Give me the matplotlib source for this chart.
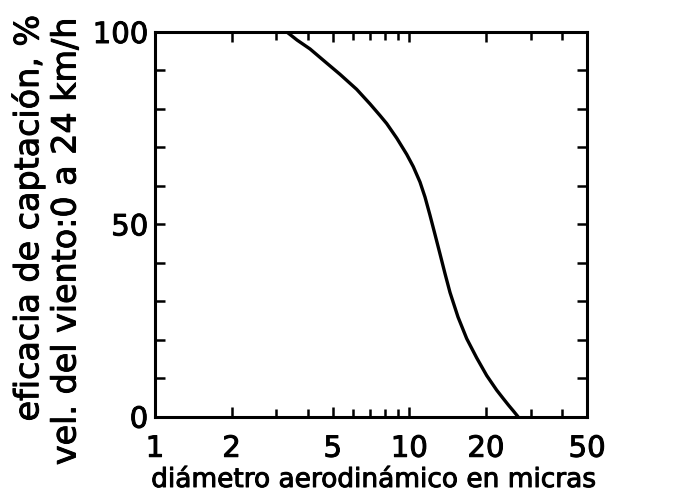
import matplotlib
matplotlib.use("Agg")
import matplotlib.pyplot as plt
import matplotlib.patheffects as pe
from matplotlib.ticker import FixedLocator, FixedFormatter, NullFormatter
from matplotlib.transforms import ScaledTranslation

# Collection efficiency vs. aerodynamic diameter (wind speed 0-24 km/h)
diametro = [3.30, 3.62, 4.07, 4.66, 5.34, 6.21, 7.01, 7.67, 8.15, 8.93, 9.77, 10.37,
            11.02, 11.53, 12.06, 12.62, 13.21, 13.82, 14.46, 15.55, 16.82, 18.41,
            20.16, 22.07, 23.43, 24.56, 25.66, 26.77]
eficacia = [100, 97.9, 95.6, 92.3, 89.0, 85.1, 81.3, 78.3, 76.2, 72.4, 68.2, 65.0,
            61.0, 57.1, 52.4, 47.4, 42.3, 37.2, 32.3, 25.9, 20.3, 15.3,
            10.7, 6.9, 4.7, 3.0, 1.5, 0]

xticks_major = [1, 2, 5, 10, 20, 50]
xtick_labels = ["1", "2", "5", "10", "20", "50"]
xticks_minor = [3, 4, 6, 7, 8, 9, 30, 40]
yticks_major = [0, 50, 100]
ytick_labels = ["0", "50", "100"]
yticks_minor = [10, 20, 30, 40, 60, 70, 80, 90]

plt.rcParams["font.family"] = ["DejaVu Sans"]

# slightly heavier glyphs, like inked lettering
heavy = [pe.withStroke(linewidth=0.7, foreground="black")]

W, H = 680, 495
fig = plt.figure(figsize=(W / 100, H / 100), dpi=100)
ax = fig.add_axes([155 / W, 1 - 416.7 / H, (587 - 155) / W, (416.7 - 32) / H])

ax.plot(diametro, eficacia, color="black", lw=2.4,
        solid_capstyle="round", solid_joinstyle="round")

ax.set_xscale("log")
ax.set_xlim(1, 50)
ax.set_ylim(0, 100)

ax.xaxis.set_major_locator(FixedLocator(xticks_major))
ax.xaxis.set_major_formatter(FixedFormatter(xtick_labels))
ax.xaxis.set_minor_locator(FixedLocator(xticks_minor))
ax.xaxis.set_minor_formatter(NullFormatter())
ax.yaxis.set_major_locator(FixedLocator(yticks_major))
ax.yaxis.set_major_formatter(FixedFormatter(ytick_labels))
ax.yaxis.set_minor_locator(FixedLocator(yticks_minor))

for s in ax.spines.values():
    s.set_linewidth(2.2)

ax.tick_params(which="both", direction="in", top=True, right=True, width=1.8, color="black")
ax.tick_params(axis="x", which="major", length=7, labelsize=21, pad=13)
ax.tick_params(axis="x", which="minor", length=6)
ax.tick_params(axis="y", which="major", length=7, labelsize=21, pad=5)
ax.tick_params(axis="y", which="minor", length=7)

# longer ticks at 10 (x) and 50 (y); the "10" label sits a little right of its tick
for t in ax.xaxis.get_major_ticks():
    if abs(t.get_loc() - 10) < 1e-6:
        t.tick1line.set_markersize(13)
        t.tick2line.set_markersize(12)
        t.label1.set_transform(t.label1.get_transform()
                               + ScaledTranslation(12 / 100, 0, fig.dpi_scale_trans))
    if abs(t.get_loc() - 1) < 1e-6:
        t.label1.set_transform(t.label1.get_transform()
                               + ScaledTranslation(5 / 100, 0, fig.dpi_scale_trans))
for t in ax.yaxis.get_major_ticks():
    if abs(t.get_loc() - 50) < 1e-6:
        t.tick1line.set_markersize(13)
        t.tick2line.set_markersize(8)

for lab in ax.get_xticklabels() + ax.get_yticklabels():
    lab.set_path_effects(heavy)

fig.text(374 / W, 1 - 480 / H, "diámetro aerodinámico en micras",
         ha="center", va="center", fontsize=19, path_effects=heavy)
fig.text(28 / W, 1 - 218 / H, "eficacia de captación, %",
         ha="center", va="center", rotation=90, fontsize=24, path_effects=heavy)
fig.text(66 / W, 1 - 241 / H, "vel. del viento:0 a 24 km/h",
         ha="center", va="center", rotation=90, fontsize=24, path_effects=heavy)

fig.savefig("out.png", dpi=100)
